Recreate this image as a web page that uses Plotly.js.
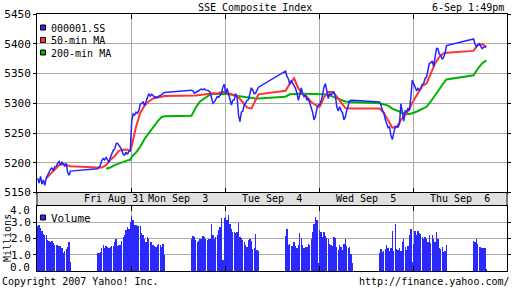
<!DOCTYPE html>
<html><head><meta charset="utf-8">
<script src="https://cdn.plot.ly/plotly-3.0.1.min.js"></script>
<style>html,body{margin:0;padding:0;background:#fff;}#chart{width:512px;height:288px;}</style>
</head><body><div id="chart"></div>
<script>
// ---- data (5-minute bars, Shanghai session 9:30-11:30 / 13:00-15:00) ----
const dayLabels = ['Fri Aug 31', 'Mon Sep  3', 'Tue Sep  4', 'Wed Sep  5', 'Thu Sep  6'];
const chartTitle = 'SSE Composite Index';
const stamp = '6-Sep 1:49pm';

const priceAug31 = [5174,5166,5177,5164,5171,5162,5174,5179,5184,5189,5191,5187,5193,5194,5199,5202,5196,5201,5198,5194,5199,5184,5179,5186,
                    5190,5192,5196,5204,5207,5205,5209,5204,5201,5209,5216,5221,5223,5232,5233,5229,5226,5222,5214,5213,5218,5214,5219,5221];
const priceSep3  = [5269,5282,5280,5285,5283,5288,5298,5301,5302,5296,5303,5310,5316,5312,5315,5313,5310,5311,5310,5312,5313,5314,5317,5318,
                    5322,5321,5317,5318,5319,5321,5323,5324,5323,5324,5322,5322,5321,5319,5311,5300,5302,5307,5311,5310,5313,5316,5327,5332];
const priceSep4  = [5316,5325,5316,5305,5297,5305,5306,5316,5310,5280,5269,5285,5287,5297,5302,5305,5306,5316,5326,5322,5316,5317,5322,5327,
                    5354,5345,5341,5332,5338,5334,5329,5325,5317,5305,5314,5326,5316,5311,5314,5305,5308,5300,5294,5285,5272,5278,5291,5297];
const priceSep5  = [5298,5304,5314,5327,5333,5322,5308,5316,5314,5317,5319,5312,5294,5287,5294,5288,5284,5272,5277,5288,5297,5304,5305,5305,
                    5302,5297,5288,5284,5273,5267,5259,5261,5246,5239,5252,5261,5261,5260,5265,5299,5285,5270,5288,5285,5292,5288,5310,5339];
const priceSep6  = [5333,5327,5321,5325,5322,5325,5332,5333,5342,5344,5354,5367,5368,5371,5362,5379,5392,5392,5382,5381,5374,5377,5384,5397,
                    5408,5400,5395,5398,5400,5396,5392,5394,5395,5394];

const volAug31 = [2.78,2.86,2.65,2.45,2.29,2.24,2.24,1.88,1.84,1.80,1.84,1.73,1.63,1.59,1.63,1.55,1.55,1.39,1.08,1.22,1.35,1.47,1.80,0.57,
                  1.08,1.08,1.18,1.39,1.63,1.43,1.55,1.49,1.39,1.49,1.55,1.55,1.80,1.96,1.55,1.59,1.63,1.84,2.10,2.20,2.51,2.71,2.57,3.02];
const volSep3  = [3.39,3.12,2.82,2.82,2.78,2.78,2.78,2.31,2.20,2.00,1.80,2.10,2.00,1.76,1.80,1.63,1.55,1.49,1.63,1.69,1.59,1.49,1.69,0.98,
                  2.00,2.16,2.10,1.90,1.76,1.84,1.96,2.00,2.16,2.12,2.00,1.92,1.94,2.00,2.92,2.24,2.00,2.08,2.20,2.51,2.71,3.27,0.67,3.27];
const volSep4  = [3.31,3.12,3.47,2.92,2.61,2.41,2.37,2.33,2.37,2.98,2.10,2.04,1.90,1.80,1.63,1.49,1.92,1.96,1.84,1.33,1.39,2.29,1.29,1.25,
                  2.16,2.57,1.63,1.69,1.55,1.55,1.76,1.55,1.39,1.59,2.31,2.04,1.59,1.39,1.49,1.49,1.69,1.59,2.00,2.37,2.92,3.33,3.12,0.47];
const volSep5  = [2.50,2.41,2.10,2.41,2.16,2.04,2.00,1.69,1.63,1.55,2.10,2.04,1.49,1.29,1.59,1.49,1.29,1.69,2.00,1.55,1.43,1.49,1.02,0.51,
                  1.08,1.35,1.20,1.25,1.35,1.60,1.40,1.25,1.40,2.45,1.25,2.88,1.35,1.30,1.40,1.25,1.76,1.96,1.50,1.30,1.55,2.24,2.61,0.57];
const volSep6  = [1.65,2.45,2.20,2.45,2.35,2.25,2.10,2.00,2.10,2.00,1.80,2.20,1.75,2.20,1.95,1.80,2.37,1.95,1.43,1.35,1.45,1.18,1.25,1.60,
                  1.84,1.76,2.00,1.69,1.49,1.49,1.43,1.39,1.39,0.15];

// moving averages read every third bar (bar numbers in maBarIndex)
const maBarIndex = [0,3,6,9,12,15,18,21,23,24,27,30,33,36,39,42,45,47];
const ma50Aug31 = [null,null,5174,5181,5189,5196,5198,5196,5194,5192,5192,5196,5205,5211,5220,5222,5222,5220];
const ma50Sep3  = [5228,5260,5284,5296,5303,5308,5310,5311,5312,5312,5313,5314,5315,5316,5317,5316,5319,5319];
const ma50Sep4  = [5317,5316,5314,5310,5302,5293,5291,5305,5315,5321,5333,5342,5325,5316,5311,5302,5297,5294];
const ma50Sep5  = [5294,5310,5319,5319,5311,5301,5292,5291,5291,5291,5284,5272,5259,5260,5272,5280,5290,5301];
const ma50Sep6  = [5305,5319,5329,5333,5349,5367,5378,5384,5385,5388,5398,5399,5395,null,null,null,null,null];
const ma200Aug31 = [null,null,null,null,null,null,null,null,null,null,null,5190,5192,5196,5199,5202,5204,5205];
const ma200Sep3  = [5210,5217,5227,5240,5250,5260,5269,5277,5278,5279,5293,5303,5308,5313,5316,5316,5316,5316];
const ma200Sep4  = [5316,5315,5313,5312,5310,5309,5308,5308,5308,5311,5315,5316,5316,5316,5316,5316,5316,5315];
const ma200Sep5  = [5315,5315,5314,5311,5308,5305,5303,5302,5302,5300,5298,5296,5291,5288,5284,5282,5282,5283];
const ma200Sep6  = [5284,5287,5290,5294,5303,5314,5325,5334,5340,5347,5358,5367,5372,null,null,null,null,null];

const priceTicks = [5150,5200,5250,5300,5350,5400,5450];
const volTicks = [1,2,3];

// ---- time scale: each trading day 9:30-15:00 = 330 min, overnight removed ----
const priceByDay = [priceAug31, priceSep3, priceSep4, priceSep5, priceSep6];
const volByDay = [volAug31, volSep3, volSep4, volSep5, volSep6];
const ma50ByDay = [ma50Aug31, ma50Sep3, ma50Sep4, ma50Sep5, ma50Sep6];
const ma200ByDay = [ma200Aug31, ma200Sep3, ma200Sep4, ma200Sep5, ma200Sep6];
const DAY = 330;
function barMinute(i){ return i < 24 ? 5*i : 210 + 5*(i-24); }
function tPos(d, i){ return d*DAY + barMinute(i) + 2.5; }

function series(byDay){
  const x = [], y = [];
  byDay.forEach((arr, d) => arr.forEach((v, i) => { x.push(tPos(d, i)); y.push(v); }));
  return {x, y};
}
function maSeries(byDay){
  const x = [], y = [];
  byDay.forEach((arr, d) => arr.forEach((v, k) => { if (v !== null) { x.push(tPos(d, maBarIndex[k])); y.push(v); } }));
  return {x, y};
}
const P = series(priceByDay), V = series(volByDay), M50 = maSeries(ma50ByDay), M200 = maSeries(ma200ByDay);

const BLUE = '#2424ff', RED = '#ff3333', GREEN = '#00b200';
const traces = [
  {type:'scatter', mode:'lines', x:M200.x, y:M200.y, xaxis:'x', yaxis:'y', line:{color:GREEN, width:2}, hoverinfo:'skip'},
  {type:'scatter', mode:'lines', x:M50.x, y:M50.y, xaxis:'x', yaxis:'y', line:{color:RED, width:2}, hoverinfo:'skip'},
  {type:'scatter', mode:'lines', x:P.x, y:P.y, xaxis:'x', yaxis:'y', line:{color:BLUE, width:1.5}, hoverinfo:'skip'},
  {type:'bar', x:V.x, y:V.y, xaxis:'x2', yaxis:'y2', width:4.6, marker:{color:'#2a2aff', line:{width:0}}, hoverinfo:'skip'}
];

// ---- layout helpers (pixel -> paper) ----
const W = 512, H = 288, ML = 37, MR = 5, MT = 14, MB = 17;
const PW = W - ML - MR, PH = H - MT - MB;
const px = v => (v - ML) / PW;
const py = v => (H - MB - v) / PH;
const FONT = 'DejaVu Sans Mono';

const dayBounds = [1,2,3,4].map(k => k*DAY);
const xCommon = {range:[0, 5*DAY], tickvals:dayBounds, showticklabels:false, showgrid:true, gridcolor:'#aaaaaa', gridwidth:1,
  ticks:'inside', ticklen:5, tickcolor:'#000', tickwidth:1, showline:true, linecolor:'#000', linewidth:1, mirror:'ticks',
  zeroline:false, fixedrange:true};
const yCommon = {ticks:'outside', ticklen:3, tickcolor:'#000', tickwidth:1, showline:true, linecolor:'#000', linewidth:1,
  mirror:'ticks', showgrid:true, gridcolor:'#aaaaaa', gridwidth:1, zeroline:false, fixedrange:true,
  tickfont:{family:FONT, size:11, color:'#000'}};

const ann = (text, xp, yp, opts) => Object.assign({text, xref:'paper', yref:'paper', x:px(xp), y:py(yp), showarrow:false,
  xanchor:'center', yanchor:'middle', font:{family:FONT, size:10, color:'#000'}}, opts || {});

const labelCenters = [114, 178, 272, 366, 460];
const annotations = [
  ann(chartTitle, 254.5, 7),
  ann(stamp, 506, 7, {xanchor:'right'}),
  ann('Copyright 2007 Yahoo! Inc.', 0, 281, {xanchor:'left'}),
  ann('http://finance.yahoo.com/', 512, 281, {xanchor:'right'}),
  ann('Millions', 7.5, 238.5, {textangle:-90, font:{family:FONT, size:10, color:'#000'}}),
  ann('4.0', 32, 210, {xanchor:'right', font:{family:FONT, size:11, color:'#000'}}),
  ann('0.0', 32, 267.5, {xanchor:'right', font:{family:FONT, size:11, color:'#000'}}),
  ann('000001.SS', 49, 28, {xanchor:'left'}),
  ann('50-min MA', 49, 40.5, {xanchor:'left'}),
  ann('200-min MA', 49, 53, {xanchor:'left'}),
  ann('Volume', 49, 218, {xanchor:'left', font:{family:FONT, size:11, color:'#000'}})
].concat(dayLabels.map((t, k) => ann(t.replace(/  /g, '\u00a0\u00a0'), labelCenters[k], 198.8)));

const rectPx = (x0, y0, x1, y1, fill, lineColor, layer) => ({type:'rect', xref:'paper', yref:'paper',
  x0:px(x0), x1:px(x1), y0:py(y1), y1:py(y0), fillcolor:fill, line:{color:lineColor || fill, width:lineColor ? 1 : 0}, layer:layer || 'above'});
const shapes = [
  rectPx(37.5, 16, 105, 58, '#ffffff', null, 'between'),
  rectPx(37.5, 207, 86, 222, '#ffffff', null, 'between'),
  rectPx(37, 192.5, 507, 205.5, '#e0e0e0', '#000000', 'above'),
  rectPx(40.5, 25, 45.5, 30, BLUE, '#000000'),
  rectPx(40.5, 37.5, 45.5, 42.5, RED, '#000000'),
  rectPx(40.5, 50, 45.5, 55, GREEN, '#000000'),
  rectPx(40.5, 215, 45.5, 220, '#2a2aff', '#000000')
];

const layout = {
  width:W, height:H, autosize:false, margin:{l:ML, r:MR, t:MT, b:MB, pad:0},
  paper_bgcolor:'#ffffff', plot_bgcolor:'#ffffff', showlegend:false, bargap:0,
  font:{family:FONT, size:10, color:'#000'},
  xaxis:Object.assign({}, xCommon, {domain:[0,1], anchor:'y'}),
  xaxis2:Object.assign({}, xCommon, {domain:[0,1], anchor:'y2', matches:'x'}),
  yaxis:Object.assign({}, yCommon, {domain:[py(192.5), 1], anchor:'x', range:[5150, 5450], tickvals:priceTicks}),
  yaxis2:Object.assign({}, yCommon, {domain:[0, py(206)], anchor:'x2', range:[0, 4], tickvals:volTicks,
    ticktext:volTicks.map(v => v.toFixed(1))}),
  annotations, shapes
};

Plotly.newPlot('chart', traces, layout, {staticPlot:true, displayModeBar:false});
</script>
</body></html>
